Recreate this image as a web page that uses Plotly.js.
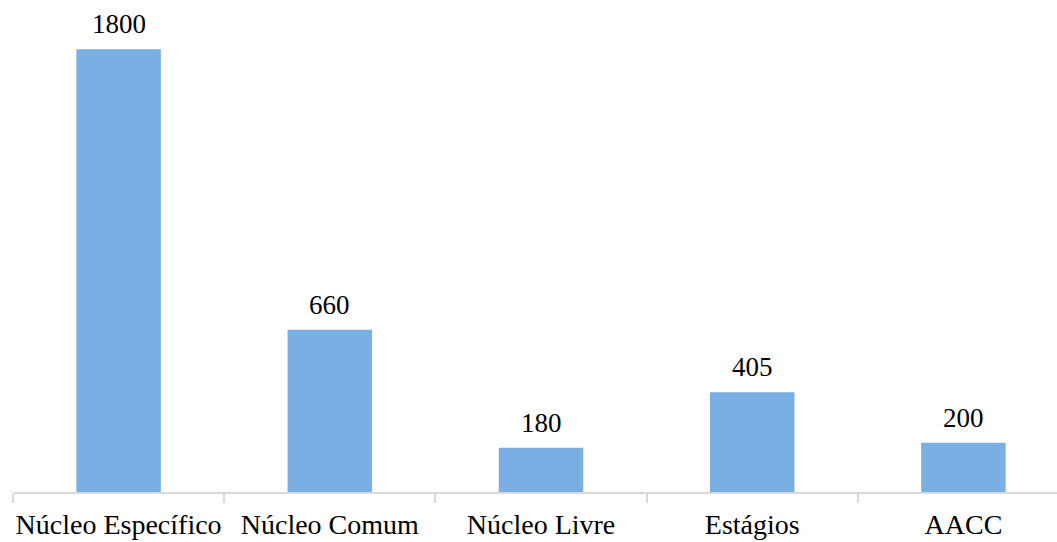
<!DOCTYPE html>
<html>
<head>
<meta charset="utf-8">
<script src="https://cdn.plot.ly/plotly-3.0.1.min.js"></script>
<style>
html,body{margin:0;padding:0;background:#fff;overflow:hidden;}
#preload{position:absolute;left:0;top:0;visibility:hidden;font-family:"Liberation Serif";font-size:28px;}
</style>
</head>
<body>
<div id="preload">Núcleo Específico 1800</div>
<div id="chart" style="width:1057px;height:542px;"></div>
<script>
const categories = ["Núcleo Específico", "Núcleo Comum", "Núcleo Livre", "Estágios", "AACC"];
const values = [1800, 660, 180, 405, 200];

const fontFam = "Liberation Serif";

const trace = {
  type: "bar",
  x: categories,
  y: values,
  marker: {color: "#7aafe3"},
  hoverinfo: "x+y"
};

const annotations = categories.map((c, i) => ({
  x: c, y: values[i], xref: "x", yref: "y",
  text: String(values[i]),
  showarrow: false, yanchor: "bottom", yshift: 8,
  font: {family: fontFam, size: 27, color: "#000"}
}));

const layout = {
  width: 1057, height: 542,
  margin: {l: 13, r: 0, t: 0, b: 50},
  paper_bgcolor: "#fff", plot_bgcolor: "#fff",
  bargap: 0.6,
  showlegend: false,
  font: {family: fontFam, size: 28, color: "#000"},
  xaxis: {
    type: "category",
    range: [-0.5, 4.443],
    tickangle: 0,
    showline: true, linecolor: "#d9d9d9", linewidth: 2,
    ticks: "outside", tickson: "boundaries", ticklen: 9, tickcolor: "#d9d9d9", tickwidth: 2,
    ticklabelstandoff: 6,
    tickfont: {family: fontFam, size: 28, color: "#000"},
    showgrid: false, zeroline: false, fixedrange: true
  },
  yaxis: {
    range: [0, 2000],
    visible: false, showgrid: false, zeroline: false, fixedrange: true
  },
  annotations: annotations
};

const gd = document.getElementById("chart");
const fontsReady = (document.fonts && document.fonts.load)
  ? Promise.all([document.fonts.load('28px "Liberation Serif"'), document.fonts.ready]).catch(() => null)
  : Promise.resolve();
fontsReady.then(() => Plotly.newPlot(gd, [trace], layout, {displayModeBar: false, staticPlot: true}))
  .then(() => Plotly.redraw(gd));
</script>
</body>
</html>
